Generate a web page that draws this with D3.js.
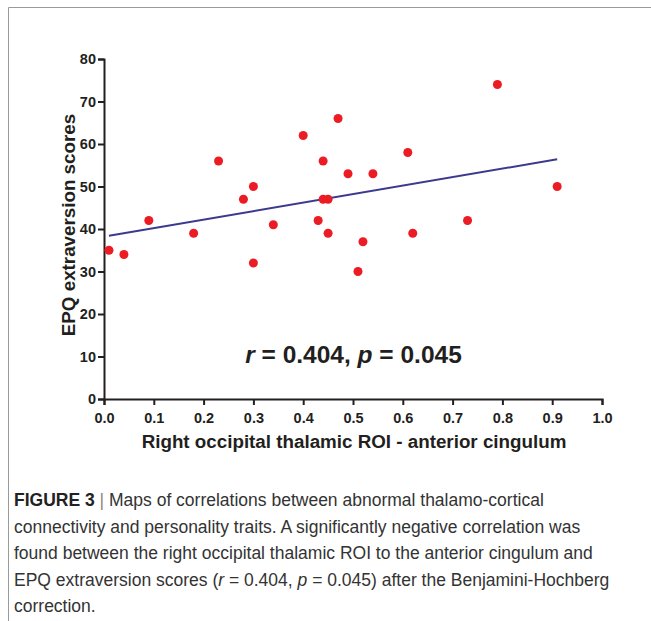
<!DOCTYPE html>
<html>
<head>
<meta charset="utf-8">
<script src="https://cdn.jsdelivr.net/npm/d3@7"></script>
<style>
  body { margin: 0; background: #fff; }
  svg { display: block; }
</style>
</head>
<body>
<main></main>
<script>
// DATA
const roiValues = [0.01, 0.04, 0.09, 0.18, 0.23, 0.28, 0.30, 0.30, 0.34, 0.40, 0.43, 0.44, 0.44,
	0.45, 0.45, 0.47, 0.49, 0.51, 0.52, 0.54, 0.61, 0.62, 0.73, 0.79, 0.91];
const epqScores = [35, 34, 42, 39, 56, 47, 50, 32, 41, 62, 42, 56, 47,
	47, 39, 66, 53, 30, 37, 53, 58, 39, 42, 74, 50];
// fitted line, ends
const fitX = [0.01, 0.91];
const fitY = [38.4, 56.4];
const xTicks = [0, 0.1, 0.2, 0.3, 0.4, 0.5, 0.6, 0.7, 0.8, 0.9, 1.0];
const yTicks = [0, 10, 20, 30, 40, 50, 60, 70, 80];
const captionLines = [
	"Maps of correlations between abnormal thalamo-cortical",
	"connectivity and personality traits. A significantly negative correlation was",
	"found between the right occipital thalamic ROI to the anterior cingulum and",
	"EPQ extraversion scores (r = 0.404, p = 0.045) after the Benjamini-Hochberg",
	"correction."
];

function draw() {
	const w = 651, h = 621;
	const svg = d3.select("main").append("svg").attr("width", w).attr("height", h);

	// frame
	svg.append("path")
		.attr("d", "M8.5," + h + "V7.5H" + w)
		.attr("fill", "none").attr("stroke", "#9a9a9a").attr("stroke-width", 1);

	// scales
	const xScale = d3.scaleLinear().domain([0, 1]).range([104, 602]);
	const yScale = d3.scaleLinear().domain([0, 80]).range([399, 59]);

	const ink = "#231f20";
	const tickFont = "bold 14.5px 'Liberation Sans', Arial, sans-serif";
	// axes
	const xAxis = d3.axisBottom(xScale).tickValues(xTicks).tickFormat(d3.format(".1f")).tickSize(6).tickPadding(8);
	const gx = svg.append("g").attr("transform", "translate(0,399)").call(xAxis);
	const yAxis = d3.axisLeft(yScale).tickValues(yTicks).tickSize(6).tickPadding(2);
	const gy = svg.append("g").attr("transform", "translate(104,0)").call(yAxis);
	[gx, gy].forEach(g => {
		g.select(".domain").attr("stroke", ink).attr("stroke-width", 2);
		g.selectAll(".tick line").attr("stroke", ink).attr("stroke-width", 2);
		g.selectAll(".tick text").attr("fill", ink).style("font", tickFont);
	});

	// axis titles
	const titleFont = "bold 18.8px 'Liberation Sans', Arial, sans-serif";
	svg.append("text")
		.attr("transform", "translate(75,225) rotate(-90)")
		.attr("text-anchor", "middle").attr("fill", ink)
		.style("font", titleFont)
		.text("EPQ extraversion scores");
	svg.append("text")
		.attr("x", 354).attr("y", 448)
		.attr("text-anchor", "middle").attr("fill", ink)
		.style("font", titleFont)
		.text("Right occipital thalamic ROI - anterior cingulum");

	// regression line
	const line = d3.line().x(d => xScale(d[0])).y(d => yScale(d[1]));
	svg.append("path")
		.datum(d3.zip(fitX, fitY))
		.attr("d", line)
		.attr("fill", "none").attr("stroke", "#3b3a8e").attr("stroke-width", 2);

	// points
	svg.selectAll("circle").data(d3.zip(roiValues, epqScores)).enter().append("circle")
		.attr("cx", d => xScale(d[0]))
		.attr("cy", d => yScale(d[1]))
		.attr("r", 4.5)
		.attr("fill", "#ec1c24");

	// statistic label
	const stat = svg.append("text")
		.attr("x", 353.5).attr("y", 363)
		.attr("text-anchor", "middle").attr("fill", ink)
		.style("font", "bold 24.5px 'Liberation Sans', Arial, sans-serif");
	stat.append("tspan").style("font-style", "italic").text("r");
	stat.append("tspan").text(" = 0.404, ");
	stat.append("tspan").style("font-style", "italic").text("p");
	stat.append("tspan").text(" = 0.045");

	// caption
	const cap = svg.append("g").attr("fill", "#333")
		.style("font", "17.5px 'Liberation Sans', Arial, sans-serif");
	captionLines.forEach((txt, i) => {
		const t = cap.append("text").attr("x", 14).attr("y", 506 + i * 26.5);
		if (i === 0) {
			t.append("tspan").style("font-weight", "bold").attr("fill", "#222").text("FIGURE 3");
			t.append("tspan").attr("fill", "#888").text(" | ");
			t.append("tspan").text(txt);
		} else if (i === 3) {
			const parts = txt.split(/(\br\b|\bp\b)/);
			parts.forEach(p => {
				const s = t.append("tspan").text(p);
				if (p === "r" || p === "p") s.style("font-style", "italic");
			});
		} else {
			t.text(txt);
		}
	});
}

document.addEventListener('DOMContentLoaded', () => {
	draw();
});
</script>
</body>
</html>
